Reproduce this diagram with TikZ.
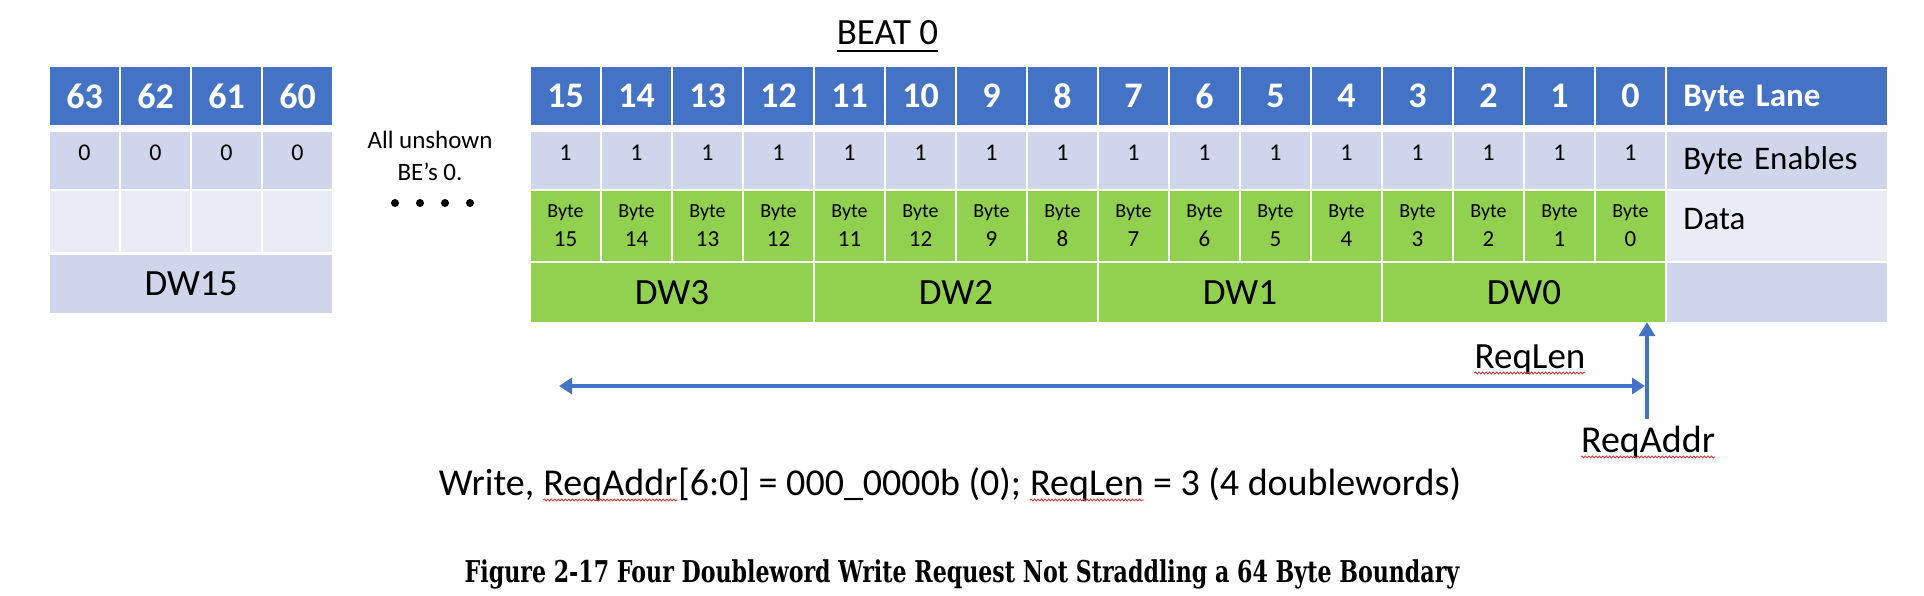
\documentclass[tikz,border=0pt]{standalone}
\usepackage{fontspec}
\setmainfont{Carlito}
\newfontfamily\capfont[FakeStretch=0.738]{DejaVu Serif}
\usetikzlibrary{arrows.meta,decorations.pathmorphing}

\definecolor{laneblue}{HTML}{4472C4}
\definecolor{enablegray}{HTML}{CFD5EA}
\definecolor{datagray}{HTML}{E9EBF5}
\definecolor{bytegreen}{HTML}{92D050}
\definecolor{squiggle}{HTML}{E03030}

\newsavebox\beatbox
\newcommand\thickunder[1]{\sbox\beatbox{#1}\rlap{\rule[-7.5pt]{\wd\beatbox}{2.7pt}}\usebox\beatbox}
\newcommand\spelled[1]{\tikz[baseline=(w.base)]{\node[inner sep=0pt] (w) {#1};
  \draw[spell] ([yshift=-5pt]w.base west) -- ([yshift=-5pt]w.base east);}}

\tikzset{
  cell/.style={inner sep=0pt,minimum width=68.5pt},
  lanecell/.style={cell,fill=laneblue,text=white,minimum height=58pt,font=\fontsize{36}{36}\selectfont\bfseries},
  becell/.style={cell,fill=enablegray,minimum height=57pt,text depth=16pt,font=\fontsize{24}{24}\selectfont},
  bytecell/.style={cell,fill=bytegreen,minimum height=69pt,align=center,font=\fontsize{20}{29}\selectfont},
  dwcell/.style={cell,fill=bytegreen,minimum width=281.5pt,minimum height=59pt,font=\fontsize{37}{37}\selectfont},
  labelcell/.style={inner sep=0pt,inner xsep=16pt,minimum width=219.5pt,text width=187.5pt,align=left,font=\fontsize{33}{33}\selectfont},
  reqarrow/.style={draw=laneblue,line width=4.5pt},
  spell/.style={draw=squiggle,line width=0.8pt,decorate,decoration={snake,amplitude=1pt,segment length=3.5pt}}
}

\begin{document}
\begin{tikzpicture}[x=1pt,y=-1pt]
\useasboundingbox (0,0) rectangle (1924,596);

% left table, lanes 63..60
\foreach \i in {0,...,3} {
  \pgfmathtruncatemacro{\lane}{63-\i}
  \node[lanecell] (lane\lane) at (84.5+71*\i,96) {\lane};
  \node[becell] (be\lane) at (84.5+71*\i,160.5) {0};
  \node[cell,fill=datagray,minimum height=60.5pt] (byte\lane) at (84.5+71*\i,221.75) {};
}
\node[dwcell,fill=enablegray,minimum height=58.5pt] (dw15) at (191,283.75) {DW15};

\node[align=center,font=\fontsize{25}{32}\selectfont] (unshown) at (430,156) {All unshown\\BE’s 0.};
\foreach \k in {0,...,3}
  \node[shape=circle,fill=black,inner sep=0pt,minimum size=8pt] (dot\k) at (395+25*\k,203) {};

% beat 0, lanes 15..0
\node[anchor=base,font=\fontsize{37}{37}\selectfont] (beat) at (887.5,45) {\thickunder{BEAT 0}};

\foreach \i/\b in {0/15,1/14,2/13,3/12,4/11,5/12,6/9,7/8,8/7,9/6,10/5,11/4,12/3,13/2,14/1,15/0} {
  \pgfmathtruncatemacro{\lane}{15-\i}
  \node[lanecell] (lane\lane) at (565.5+71*\i,96) {\lane};
  \node[becell] (be\lane) at (565.5+71*\i,160.5) {1};
  \node[bytecell] (byte\lane) at (565.5+71*\i,226) {Byte\\{\fontsize{23}{29}\selectfont\b}};
}
\foreach \k in {0,...,3} {
  \pgfmathtruncatemacro{\dw}{3-\k}
  \node[dwcell] (dw\dw) at (672+284*\k,292.5) {DW\dw};
}

\node[labelcell,fill=laneblue,text=white,text depth=0pt,font=\fontsize{33}{33}\selectfont\bfseries,minimum height=58pt] (lanelabel) at (1777,96) {Byte Lane};
\node[labelcell,fill=enablegray,minimum height=57pt] (enlabel) at (1777,160.5) {Byte Enables};
\node[labelcell,fill=datagray,minimum height=69pt,text depth=15pt] (datalabel) at (1777,226) {Data};
\node[labelcell,fill=enablegray,minimum height=59pt] (dwlabel) at (1777,292.5) {};

% request length and address
\node[anchor=base,font=\fontsize{37}{37}\selectfont] (reqlen) at (1530,368) {\spelled{ReqLen}};
\node[anchor=base,font=\fontsize{38}{38}\selectfont] (reqaddr) at (1648,452) {\spelled{ReqAddr}};
\coordinate (lenstart) at (559,386);
\coordinate (lenend) at (1645,386);
\coordinate (addrfoot) at (1647,419);
\draw[reqarrow,{Triangle[width=16pt,length=13pt]}-{Triangle[width=16pt,length=13pt]}] (lenstart) -- (lenend);
\draw[reqarrow,-{Triangle[width=16pt,length=14pt]}] (addrfoot) -- (addrfoot |- dw0.south);

\node[anchor=base,font=\fontsize{38}{38}\selectfont] (summary) at (950,495)
  {Write, \spelled{ReqAddr}[6:0] = 000\_0000b (0); \spelled{ReqLen} = 3 (4 doublewords)};
\node[anchor=base,font=\fontsize{30}{30}\capfont\bfseries] (caption) at (962,582)
  {Figure 2-17 Four Doubleword Write Request Not Straddling a 64 Byte Boundary};

\end{tikzpicture}
\end{document}
